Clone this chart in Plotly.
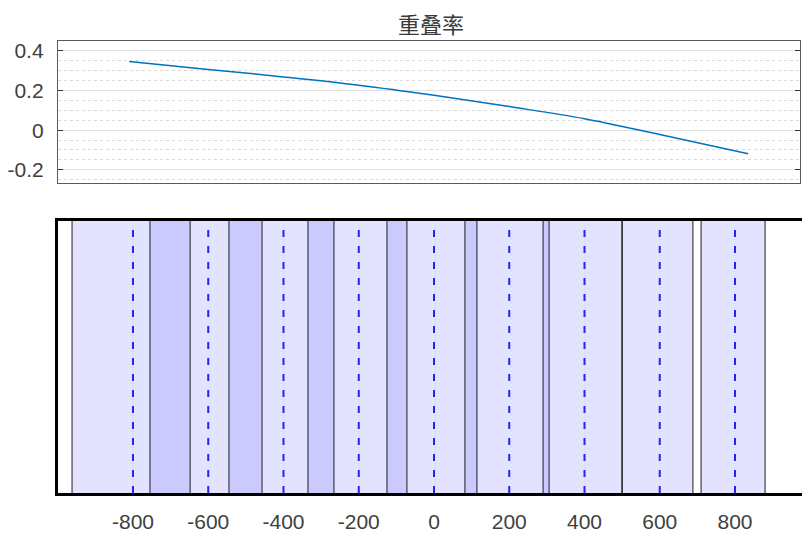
import plotly.graph_objects as go

# Overlap rate along the strip
rate_x = [-810, -600, -400, -200, 0, 200, 400, 600, 835]
rate_y = [0.347, 0.307, 0.269, 0.227, 0.176, 0.119, 0.058, -0.022, -0.119]

# Image footprints: centre position, left and right edges
centers = [-800, -600, -400, -200, 0, 200, 400, 600, 800]
left_edges = [-962, -755, -545, -335, -125, 82, 290, 500, 710]
right_edges = [-648, -457, -266, -72, 114, 306, 500, 688, 880]

x_ticks = [-800, -600, -400, -200, 0, 200, 400, 600, 800]
y_ticks = [-0.2, 0, 0.2, 0.4]

W, H = 802, 533
FONT = "Liberation Sans, Arial, sans-serif"
TXT = "#404040"

fig = go.Figure()

fig.add_trace(go.Scatter(
    x=rate_x, y=rate_y, mode="lines", line=dict(color="#0072BD", width=1.5, shape="spline"),
    xaxis="x", yaxis="y", showlegend=False, hoverinfo="skip"))

# dummy trace so the lower axes are rendered
fig.add_trace(go.Scatter(x=[centers[0]], y=[0.5], mode="markers", marker=dict(opacity=0),
                         xaxis="x2", yaxis="y2", showlegend=False, hoverinfo="skip"))

shapes = []
# centre lines (dashed), drawn under the footprints
for c in centers:
    shapes.append(dict(type="line", xref="x2", yref="y2", x0=c, x1=c, y0=0, y1=1,
                       line=dict(color="rgb(40,40,255)", width=2, dash="7px,9px"), layer="above"))
# translucent footprints
for l, r in zip(left_edges, right_edges):
    shapes.append(dict(type="rect", xref="x2", yref="y2", x0=l, x1=r, y0=0, y1=1,
                       fillcolor="rgba(0,0,255,0.11)", line=dict(width=0), layer="above"))
# footprint side edges
for l, r in zip(left_edges, right_edges):
    for e in (l, r):
        shapes.append(dict(type="line", xref="x2", yref="y2", x0=e, x1=e, y0=0, y1=1,
                           line=dict(color="rgba(20,20,20,0.6)", width=1.6), layer="above"))

px_per_unit = 0.37625
zero_px = 434
def rng(p0, p1):
    return [(p0 - zero_px) / px_per_unit, (p1 - zero_px) / px_per_unit]

fig.update_layout(
    width=W, height=H, margin=dict(l=0, r=0, t=0, b=0),
    paper_bgcolor="white", plot_bgcolor="white",
    font=dict(family=FONT, size=21, color=TXT),
    shapes=shapes,
    xaxis=dict(domain=[58 / W, 800 / W], range=rng(58, 800), showticklabels=False, ticks="",
               showgrid=False, zeroline=False, showline=True, mirror=True,
               linecolor="#5a5a5a", linewidth=1.3),
    yaxis=dict(domain=[(H - 183) / H, (H - 40) / H], range=[-0.265, 0.448],
               tickvals=y_ticks, ticktext=["-0.2", "0", "0.2", "0.4"],
               tickfont=dict(size=21, color=TXT, family=FONT),
               ticks="inside", ticklen=5, tickcolor="#333", tickwidth=1,
               showline=True, mirror="ticks", linecolor="#5a5a5a", linewidth=1.3,
               showgrid=True, gridcolor="#e1e1e1", gridwidth=1, zeroline=False,
               ticklabelstandoff=9,
               minor=dict(dtick=0.05, tick0=0, showgrid=True, griddash="dot",
                          gridcolor="#d9d9d9", gridwidth=1, ticks="")),
    xaxis2=dict(domain=[58 / W, 1.0], range=rng(58, 802), tickvals=x_ticks,
                ticktext=[str(v) for v in x_ticks], tickfont=dict(size=21, color=TXT, family=FONT),
                ticks="", showgrid=False, zeroline=False,
                showline=True, mirror=True, linecolor="black", linewidth=3,
                anchor="y2", ticklabelstandoff=8),
    yaxis2=dict(domain=[(H - 497.5) / H, (H - 222) / H], range=[0, 1], showticklabels=False,
                ticks="", showgrid=False, zeroline=False, showline=True, mirror=False,
                linecolor="black", linewidth=3, anchor="x2"),
    annotations=[dict(text="重叠率", xref="paper", yref="paper", x=431 / W, y=(H - 21) / H,
                      xanchor="center", yanchor="middle", showarrow=False,
                      font=dict(family="Noto Sans CJK SC", size=22, color="#3a3a3a"))],
)

fig.write_html("out.html")
